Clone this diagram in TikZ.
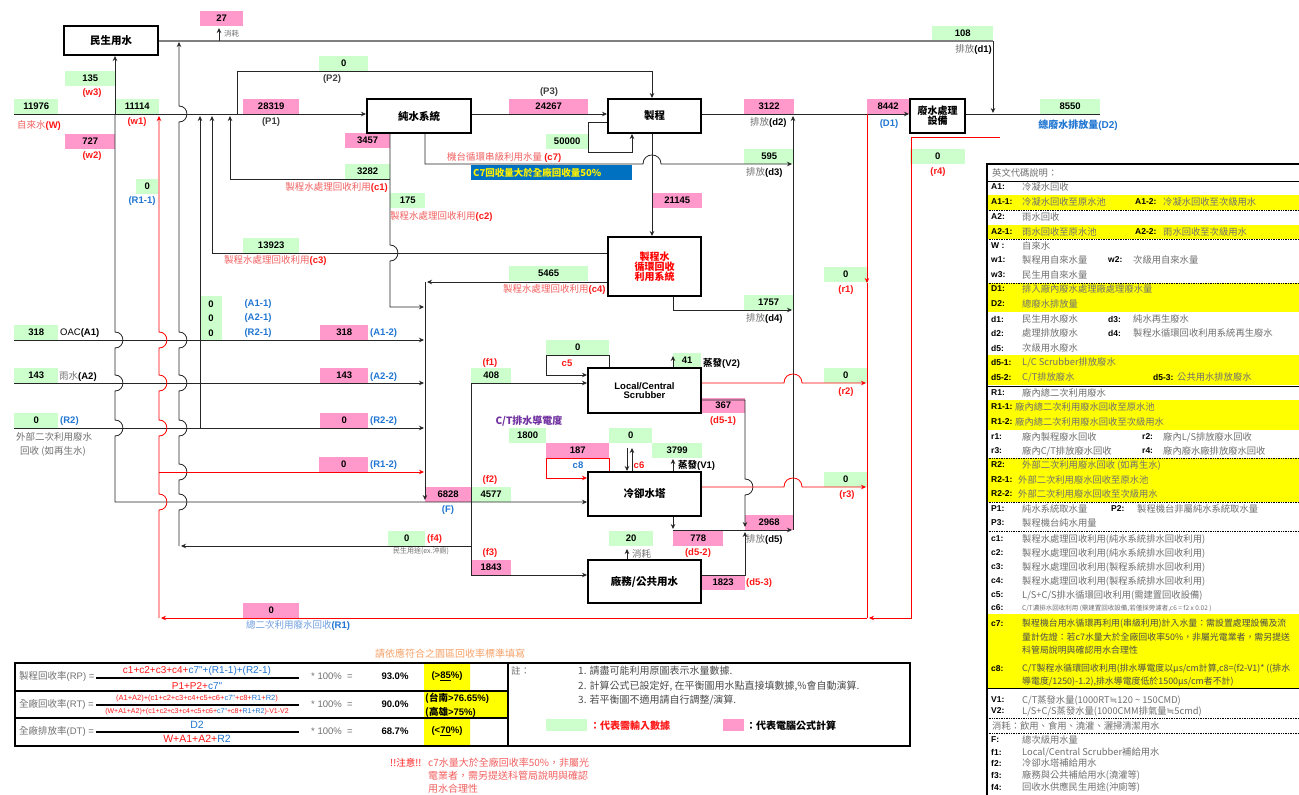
\documentclass[tikz,border=0pt]{standalone}
\usepackage{fontspec}
\setmainfont{Noto Sans CJK TC}
\newfontfamily\lat{Liberation Sans}
\newfontfamily\symfont{DejaVu Sans}
\usepackage{tikz}
\usetikzlibrary{arrows.meta,positioning,calc}
\definecolor{ingreen}{RGB}{204,255,204}
\definecolor{calcpink}{RGB}{255,153,204}
\definecolor{hiyellow}{RGB}{255,255,0}
\definecolor{lred}{RGB}{242,96,96}
\definecolor{vred}{RGB}{255,24,24}
\definecolor{lblue}{RGB}{32,118,210}
\definecolor{pblue}{RGB}{110,158,222}
\definecolor{boxblue}{RGB}{0,112,192}
\definecolor{txtgray}{RGB}{112,112,112}
\definecolor{linegray}{RGB}{128,128,128}
\definecolor{ctpurple}{RGB}{112,48,160}
\definecolor{noteorange}{RGB}{246,162,104}
\newcommand{\fsz}[1]{\fontsize{#1}{#1}\selectfont}
\newcommand{\rtx}[1]{\textcolor{vred}{#1}}
\newcommand{\btx}[1]{\textcolor{lblue}{#1}}
\newcommand{\gtx}[1]{\textcolor{txtgray}{#1}}
\newcommand{\rcode}[1]{{\lat\bfseries\textcolor{vred}{#1}}}
\newcommand{\bcode}[1]{{\lat\bfseries\textcolor{lblue}{#1}}}
\newcommand{\kcode}[1]{{\lat\bfseries #1}}
\newcommand{\approxim}{{\symfont ≒}}
% line hops: vertical line bulging right, horizontal line bulging up
\newcommand{\vhop}[2]{-- (#1,#2-8) .. controls (#1+10.5,#2-8) and (#1+10.5,#2+8) .. (#1,#2+8)}
\newcommand{\hhop}[2]{-- (#1-9,#2) .. controls (#1-9,#2-12) and (#1+9,#2-12) .. (#1+9,#2)}
\tikzset{
  sysbox/.style={draw=black,line width=1.8pt,fill=white,align=center,inner sep=1pt,font=\bfseries\fsz{10.5}},
  val/.style={anchor=south west,minimum height=15pt,inner sep=0pt,font=\lat\bfseries\fsz{9.5}},
  inval/.style={val,fill=ingreen},
  calcval/.style={val,fill=calcpink},
  ln/.style={draw=black!85,line width=0.8pt},
  rln/.style={draw=red,line width=0.8pt},
  fwd/.style={-{Stealth[length=5pt,width=4.5pt]}},
  bwd/.style={{Stealth[length=5pt,width=4.5pt]}-},
  lab/.style={inner sep=0pt,font=\fsz{9.5}},
  codelab/.style={inner sep=0pt,font=\bfseries\fsz{9.5}},
  latlab/.style={inner sep=0pt,font=\lat\bfseries\fsz{9.5}},
  leg/.style={inner sep=0pt,anchor=west,font=\fsz{9.3}},
  legcode/.style={inner sep=0pt,anchor=west,font=\lat\bfseries\fsz{8.5}},
}
\begin{document}
\begin{tikzpicture}[x=1pt,y=-1pt]
\useasboundingbox (0,0) rectangle (1299,795);
\fill[white] (0,0) rectangle (1299,795);

% input values (green) and computed values (pink)
\foreach \n/\x/\y/\w/\t in {g135/65/86/50/135, g11976/14/114/44/11976, g11114/115/114/44/11114,
  gP2/319/71/49/0, g108/932/41/61/108, g50000/546/149/42/50000, g3282/345/179/45/3282,
  gR11/136/194/22/0, g175/390/208/35/175, g595/744/164/50/595, gr4/910/164/55/0,
  g8550/1040/114/60/8550, g13923/243/253/56/13923, g318/14/340/44/318, g143/14/383/44/143,
  gR2/14/428/44/0, g5465/509/281/79/5465, g1757/744/310/49/1757, gr1/824/282/43/0,
  gr2/824/383/43/0, gr3/824/487/43/0, gc5/546/355/63/0, g408/471/383/40/408, g41/673/368/28/41,
  g1800/509/443/37/1800, gc6/609/443/43/0, g3799/652/458/50/3799, g4577/471/502/40/4577,
  gf4/388/546/37/0, g20/609/546/44/20}
  \node[inval,minimum width=\w] (\n) at (\x,\y) {\t};
\foreach \n/\x/\y/\w/\t in {p27/200/26/43/27, p727/65/149/50/727, p28319/243/114/56/28319,
  p24267/509/114/79/24267, p3457/345/148/45/3457, p3122/744/114/50/3122, p21145/652/208/50/21145,
  p8442/867/114/42/8442, p318/320/340/48/318, p143/320/383/48/143, pR22/320/428/48/0,
  pR12/319/472/49/0, p6828/425/502/46/6828, p1843/471/575/40/1843, pR1/243/618/56/0,
  p367/701/413/44/367, p187/546/458/63/187, p2968/745/530/48/2968, p778/673/546/50/778,
  p1823/701/590/44/1823}
  \node[calcval,minimum width=\w] (\n) at (\x,\y) {\t};
\node[inval,minimum width=22,minimum height=44] (gA) at (200,340) {};
\foreach \y/\t in {304/A1-1,318/A2-1,333/R2-1}{
  \node[latlab] (z\t) at (211,\y) {0};
  \node[latlab,text=lblue] (c\t) at (258,\y) {(\t)};}

% domestic line and discharge d1
\draw[draw=linegray,line width=1.5pt] (158,41) -- (993,41);
\draw[ln,fwd] (993,41) -- (993,113);
\draw[ln,fwd] (219,41) -- (219,28);
% tap water
\draw[ln,fwd] (14,114) -- (366,114);
\draw[ln,fwd] (115,114) -- (115,56);
\draw[ln,fwd] (115,114) \vhop{115}{340} \vhop{115}{383} \vhop{115}{428} -- (115,502) -- (587,502);
\draw[ln,bwd] (179,42) \vhop{179}{114} \vhop{179}{340} \vhop{179}{383} \vhop{179}{428} \vhop{179}{472} \vhop{179}{502} -- (179,546);
\draw[ln,fwd] (471,546) -- (181,546);
\draw[ln,bwd] (200,116) -- (200,428);
\draw[ln,bwd] (212,116) -- (212,253) -- (608,253);
\draw[ln,bwd] (230,116) -- (230,179) -- (390,179);
\draw[ln,fwd] (237,114) -- (237,71) -- (652,71) -- (652,98);
\draw[ln,fwd] (471,114) -- (607,114);
\draw[ln,fwd] (608,122) -- (588,122) -- (588,152) -- (632,152) -- (632,134);
\draw[ln,fwd] (390,133) \vhop{390}{253} -- (390,307) -- (424,307);
\draw[ln,fwd] (425,133) -- (425,164) \hhop{652}{164} -- (792,164);
\draw[ln,fwd] (652,133) -- (652,236);
\draw[ln,fwd] (701,114) -- (909,114);
\draw[ln] (965,114) -- (1100,114);
\draw[ln,bwd] (793,116) -- (793,530);
\draw[ln,fwd] (673,296) -- (673,310) -- (792,310);
\draw[ln,fwd] (608,282) -- (427,282);
\draw[ln,fwd] (425,282) -- (425,500);
\foreach \y in {340,383,428}
  \draw[ln,fwd] (14,\y) -- (424,\y);
% secondary water
\draw[ln,fwd] (471,502) -- (471,383) -- (587,383);
\draw[ln,fwd] (471,502) -- (471,575) -- (587,575);
\draw[ln,fwd] (609,368) -- (609,355) -- (546,355) -- (546,375) -- (587,375);
\draw[ln,fwd] (673,368) -- (673,356);
\draw[ln,fwd] (701,400) -- (745,400) \vhop{745}{487} -- (745,527);
\draw[ln,fwd] (627,448) -- (627,471);
\draw[ln,fwd] (632,471) -- (632,448);
\draw[ln,fwd] (673,472) -- (673,459);
\draw[ln,fwd] (673,516) -- (673,529);
\draw[ln,fwd] (673,530) -- (792,530);
\draw[ln,fwd] (701,575) -- (745,575) -- (745,532);
\draw[ln,fwd] (627,560) -- (627,549);
% recycled water (red)
\draw[rln,fwd] (609,472) -- (609,458) -- (546,458) -- (546,478) -- (587,478);
\draw[rln,bwd] (159,116) \vhop{159}{340} \vhop{159}{383} \vhop{159}{428} \vhop{159}{502} -- (159,618);
\draw[rln,fwd] (159,472) -- (424,472);
\draw[rln,fwd] (867,114) -- (867,283);
\draw[rln] (867,283) -- (867,618);
\draw[rln,fwd] (867,618) -- (161,618);
\draw[rln,fwd] (701,383) \hhop{793}{383} -- (866,383);
\draw[rln,fwd] (701,487) \hhop{793}{487} -- (866,487);
\draw[rln,fwd] (1000,137) -- (911,137) -- (911,618) -- (869,618);

% units
\node[sysbox,minimum width=94,minimum height=29] (civ) at (111,40.5) {民生用水};
\node[sysbox,minimum width=104,minimum height=34] (ps) at (419,116) {純水系統};
\node[sysbox,minimum width=93,minimum height=34] (mfg) at (654.5,116) {製程};
\node[sysbox,minimum width=55,minimum height=34,font=\bfseries\fsz{10}] (wwt) at (937.5,116) {廢水處理\\設備};
\node[sysbox,minimum width=93,minimum height=59,text=red,font=\bfseries\fsz{10}] (rec) at (654.5,266.5) {製程水\\循環回收\\利用系統};
\node[sysbox,minimum width=113,minimum height=45,font=\lat\bfseries\fsz{9.5}] (lcs) at (644.5,390.5) {Local/Central\\Scrubber};
\node[sysbox,minimum width=113,minimum height=44] (ct) at (644.5,494) {冷卻水塔};
\node[sysbox,minimum width=113,minimum height=43] (fac) at (644.5,581.5) {廠務/公共用水};
\node[fill=boxblue,text=yellow,anchor=north west,minimum height=15,text width=157,inner xsep=2,inner ysep=0,align=left,font=\bfseries\fsz{9.5}] (c7warn) at (471,165) {C7回收量大於全廠回收量50\%};

% labels
\node[lab,text=txtgray,font=\fsz{7.5},anchor=west] (t27) at (224,34) {消耗};
\node[lab,anchor=east] (td1) at (992,49) {\gtx{排放}\kcode{(d1)}};
\node[latlab,text=vred] (tw3) at (92,93) {(w3)};
\node[latlab,text=vred] (tw1) at (137,122) {(w1)};
\node[latlab,text=vred] (tw2) at (92,156) {(w2)};
\node[lab] (tW) at (39,125) {\textcolor{lred}{自來水}\rcode{(W)}};
\node[latlab,text=black!75] (tP1) at (271,122) {(P1)};
\node[latlab,text=black!75] (tP2) at (332,79) {(P2)};
\node[latlab,text=black!75] (tP3) at (549,92) {(P3)};
\node[latlab,text=lblue] (tR11) at (142,201) {(R1-1)};
\node[lab,anchor=east] (tc1) at (388,187) {\textcolor{lred}{製程水處理回收利用}\rcode{(c1)}};
\node[lab,anchor=west] (tc2) at (390,216) {\textcolor{lred}{製程水處理回收利用}\rcode{(c2)}};
\node[lab,anchor=west] (tc3) at (224,260) {\textcolor{lred}{製程水處理回收利用}\rcode{(c3)}};
\node[lab,anchor=west] (tc4) at (503,289) {\textcolor{lred}{製程水處理回收利用}\rcode{(c4)}};
\node[lab,anchor=west] (tc7) at (447,157) {\textcolor{lred}{機台循環串級利用水量 }\rcode{(c7)}};
\node[lab,anchor=west] (td2) at (750,122) {\gtx{排放}\kcode{(d2)}};
\node[lab,anchor=west] (td3) at (746,172) {\gtx{排放}\kcode{(d3)}};
\node[lab,anchor=west] (td4) at (746,318) {\gtx{排放}\kcode{(d4)}};
\node[latlab,text=lblue] (tD1) at (889,124) {(D1)};
\node[latlab,text=vred] (tr4) at (938,172) {(r4)};
\node[latlab,text=vred] (tr1) at (846,290) {(r1)};
\node[latlab,text=vred] (tr2) at (846,392) {(r2)};
\node[latlab,text=vred] (tr3) at (847,495) {(r3)};
\node[codelab,font=\bfseries\fsz{10}] (tD2) at (1078,125) {\textcolor{lblue}{總廢水排放量}\bcode{(D2)}};
\node[lab,anchor=west] (tA1) at (60,333) {{\lat OAC}\kcode{(A1)}};
\node[lab,anchor=west] (tA2) at (59,377) {\gtx{雨水}\kcode{(A2)}};
\node[latlab,text=lblue,anchor=west] (tR2) at (60,421) {(R2)};
\node[lab,text=txtgray,anchor=west] (tR2a) at (16,437) {外部二次利用廢水};
\node[lab,text=txtgray,anchor=west] (tR2b) at (20,451) {回收 (如再生水)};
\foreach \y/\t in {333/A1-2,377/A2-2,421/R2-2,465/R1-2}
  \node[latlab,text=lblue,anchor=west] (t\t) at (370,\y) {(\t)};
\node[latlab,text=lblue] (tF) at (448,510) {(F)};
\node[latlab,text=vred] (tf1) at (490,363) {(f1)};
\node[latlab,text=vred] (tf2) at (490,480) {(f2)};
\node[latlab,text=vred] (tf3) at (490,553) {(f3)};
\node[latlab,text=vred,anchor=west] (tf4) at (427,539) {(f4)};
\node[lab,text=txtgray,font=\fsz{7}] (tf4b) at (421,551) {民生用途(ex.沖廁)};
\node[lab] (tR1) at (298,625) {\textcolor{pblue}{總二次利用廢水回收}\bcode{(R1)}};
\node[latlab,text=vred] (tc5) at (567,363) {c5};
\node[latlab,text=lblue] (tc8) at (578,465) {c8};
\node[latlab,text=vred] (tc6) at (639,465) {c6};
\node[codelab,anchor=west] (tV2) at (703,363) {蒸發\kcode{(V2)}};
\node[codelab,anchor=west] (tV1) at (678,465) {蒸發\kcode{(V1)}};
\node[codelab,text=ctpurple,font=\bfseries\fsz{10}] (tcond) at (529,421) {C/T排水導電度};
\node[lab,text=txtgray,anchor=west] (t20) at (632,554) {消耗};
\node[latlab,text=vred] (td51) at (723,421) {(d5-1)};
\node[latlab,text=vred] (td52) at (698,553) {(d5-2)};
\node[latlab,text=vred,anchor=west] (td53) at (746,583) {(d5-3)};
\node[lab,anchor=west] (td5) at (746,539) {\gtx{排放}\kcode{(d5)}};

% code legend
\fill[white] (987,164) rectangle (1303,799);
\foreach \a/\b in {195/210,225/239,283/312,355/385,400/430,458/502,614/688}
  \fill[hiyellow] (988,\a) rectangle (1299,\b);
\draw[line width=1.8pt] (987,164) rectangle (1303,799);
\draw[line width=0.6pt] (987,181) -- (1299,181) (987,386) -- (1299,386) (987,688) -- (1299,688);
\foreach \y in {210,239,283,458,502,531,718,733}
  \draw[densely dotted,line width=0.7pt] (987,\y) -- (1299,\y);
\node[leg,text=txtgray] (lhead) at (992,173) {英文代碼說明：};
\foreach \y/\x/\c/\d in {187/1022/A1:/冷凝水回收, 202/1022/A1-1:/冷凝水回收至原水池, 217/1022/A2:/雨水回收,
  232/1022/A2-1:/雨水回收至原水池, 246/1022/W :/自來水, 260/1022/w1:/製程用自來水量, 275/1022/w3:/民生用自來水量,
  289/1022/D1:/排入廠內廢水處理廠處理廢水量, 304/1022/D2:/總廢水排放量, 319/1022/d1:/民生用水廢水,
  333/1022/d2:/處理排放廢水, 348/1022/d5:/次級用水廢水, 362/1022/d5-1:/{L/C Scrubber排放廢水},
  377/1022/d5-2:/{C/T排放廢水}, 393/1022/R1:/廠內總二次利用廢水, 407/1015/R1-1:/廠內總二次利用廢水回收至原水池,
  422/1015/R1-2:/廠內總二次利用廢水回收至次級用水, 437/1022/r1:/廠內製程廢水回收, 451/1022/r3:/{廠內C/T排放廢水回收},
  465/1022/R2:/外部二次利用廢水回收 (如再生水), 480/1018/R2-1:/外部二次利用廢水回收至原水池,
  494/1018/R2-2:/外部二次利用廢水回收至次級用水, 509/1022/P1:/純水系統取水量, 523/1022/P3:/製程機台純水用量,
  539/1022/c1:/製程水處理回收利用(純水系統排水回收利用), 553/1022/c2:/製程水處理回收利用(純水系統排水回收利用),
  567/1022/c3:/製程水處理回收利用(製程系統排水回收利用), 581/1022/c4:/製程水處理回收利用(製程系統排水回收利用),
  595/1022/c5:/{L/S+C/S排水循環回收利用(需建置回收設備)}, 700/1022/V1:/{C/T蒸發水量(1000RT\approxim 120 \textasciitilde{} 150CMD)},
  711/1022/V2:/{L/S+C/S蒸發水量(1000CMM排氣量\approxim 5cmd)}, 740/1022/F:/總次級用水量,
  752/1022/f1:/{Local/Central Scrubber補給用水}, 763/1022/f2:/冷卻水塔補給用水,
  775/1022/f3:/廠務與公共補給用水(澆灌等), 787/1022/f4:/回收水供應民生用途(沖廁等)}{
  \node[legcode] (lc\y) at (991,\y) {\c};
  \node[leg,text=txtgray] (ld\y) at (\x,\y) {\d};}
\foreach \y/\cx/\c/\dx/\d in {202/1135/A1-2:/1163/冷凝水回收至次級用水, 232/1135/A2-2:/1163/雨水回收至次級用水,
  260/1108/w2:/1133/次級用自來水量, 319/1108/d3:/1133/純水再生廢水, 333/1108/d4:/1133/製程水循環回收利用系統再生廢水,
  377/1153/d5-3:/1177/公共用水排放廢水, 437/1142/r2:/1163/{廠內L/S排放廢水回收}, 451/1142/r4:/1163/廠內廢水廠排放廢水回收,
  509/1111/P2:/1137/製程機台非屬純水系統取水量}{
  \node[legcode] (lk\y) at (\cx,\y) {\c};
  \node[leg,text=txtgray] (le\y) at (\dx,\y) {\d};}
\node[legcode] (lc608) at (991,608) {c6:};
\node[leg,text=txtgray,font=\fsz{6.5}] (ld608) at (1022,608) {C/T濃排水回收利用 (需建置回收設備,若僅採旁濾者,c6 = f2 x 0.02 )};
\node[legcode] (lc624) at (991,624) {c7:};
\foreach \y/\d in {624/製程機台用水循環再利用(串級利用)計入水量：需設置處理設備及流,
  637/量計佐證：若c7水量大於全廠回收率50\%，非屬光電業者，需另提送, 650/科管局說明與確認用水合理性,
  669/{C/T製程水循環回收利用(排水導電度以μs/cm計算,c8=(f2-V1)* ((排水}, 682/{導電度/1250)-1.2),排水導電度低於1500μs/cm者不計)}}
  \node[leg,text=black!70,font=\fsz{8.9}] (lx\y) at (1022,\y) {\d};
\node[legcode] (lc669) at (991,669) {c8:};
\node[leg,text=txtgray] (lcons) at (992,726) {消耗：飲用、食用、澆灌、灑掃清潔用水};

% recovery rates
\node[lab,text=noteorange,anchor=west,font=\fsz{10}] (rnote) at (375,654) {請依應符合之園區回收率標準填寫};
\fill[hiyellow] (424,664) rectangle (470,690) (424,691) rectangle (508,718) (424,719) rectangle (470,745);
\draw[line width=1.8pt] (15,663) rectangle (508,746) (508,663) rectangle (910,746);
\draw[line width=1.5pt] (15,691) -- (508,691) (15,718) -- (508,718);
\draw[line width=1.2pt] (96,678) -- (299,678) (96,705) -- (299,705) (96,732) -- (299,732);
\node[lab,text=txtgray,anchor=west] (rpl) at (19,676) {製程回收率{\lat(RP) =}};
\node[lab,font=\lat\fsz{10}] (rpn) at (197,671) {\rtx{c1+c2+c3+c4+}\btx{c7"+(R1-1)+(R2-1)}};
\node[lab,font=\lat\fsz{10}] (rpd) at (197,686) {\rtx{P1+P2+}\btx{c7"}};
\node[lab,text=txtgray,anchor=west,font=\lat\fsz{9.5}] (rpm) at (311,676) {* 100\% \ =};
\node[latlab] (rpv) at (395,676) {93.0\%};
\node[latlab] (rpt) at (447,676) {(>\underline{85}\%)};
\node[lab,text=txtgray,anchor=west] (rtl) at (19,704) {全廠回收率{\lat(RT) =}};
\node[lab,font=\lat\fsz{7.5}] (rtn) at (197,699) {\rtx{(A1+A2)+(c1+c2+c3+c4+c5+c6+}\btx{c7"}\rtx{+c8+}\btx{R1}\rtx{+}\btx{R2}\rtx{)}};
\node[lab,font=\lat\fsz{7}] (rtd) at (197,712) {\rtx{(W+A1+A2)+(c1+c2+c3+c4+c5+c6+}\btx{c7"}\rtx{+c8+}\btx{R1+R2}\rtx{)-V1-V2}};
\node[lab,text=txtgray,anchor=west,font=\lat\fsz{9.5}] (rtm) at (311,704) {* 100\% \ =};
\node[latlab] (rtv) at (395,704) {90.0\%};
\node[codelab,anchor=west] (rtt1) at (425,698) {(台南\kcode{>76.65\%)}};
\node[codelab,anchor=west] (rtt2) at (425,712) {(高雄\kcode{>75\%)}};
\node[lab,text=txtgray,anchor=west] (dtl) at (19,731) {全廠排放率{\lat(DT) =}};
\node[lab,font=\lat\fsz{10.5}] (dtn) at (197,725) {\btx{D2}};
\node[lab,font=\lat\fsz{10.5}] (dtd) at (197,739) {\rtx{W+A1+A2+}\btx{R2}};
\node[lab,text=txtgray,anchor=west,font=\lat\fsz{9.5}] (dtm) at (311,731) {* 100\% \ =};
\node[latlab] (dtv) at (395,731) {68.7\%};
\node[latlab] (dtt) at (447,731) {(<\underline{70}\%)};
% notes
\node[lab,text=txtgray,anchor=west] (n0) at (511,671) {註：};
\node[lab,text=black!70,anchor=west,font=\fsz{10}] (n1) at (578,671) {1. 請盡可能利用原圖表示水量數據.};
\node[lab,text=black!70,anchor=west,font=\fsz{10}] (n2) at (578,686) {2. 計算公式已設定好, 在平衡圖用水點直接填數據,\%會自動演算.};
\node[lab,text=black!70,anchor=west,font=\fsz{10}] (n3) at (578,700) {3. 若平衡圖不適用請自行調整/演算.};
\node[fill=ingreen,minimum width=41,minimum height=12,inner sep=0,anchor=north west] (swg) at (546,719) {};
\node[codelab,text=vred,anchor=west,font=\bfseries\fsz{10}] (swgt) at (590,726) {：代表需輸入數據};
\node[fill=calcpink,minimum width=21,minimum height=12,inner sep=0,anchor=north west] (swp) at (723,719) {};
\node[codelab,anchor=west,font=\bfseries\fsz{10}] (swpt) at (746,726) {：代表電腦公式計算};
\node[lab,text=vred,anchor=west] (warn0) at (390,763) {!!注意!!};
\node[lab,text=lred,anchor=west,font=\fsz{10}] (warn1) at (428,763) {c7水量大於全廠回收率50\%，非屬光};
\node[lab,text=lred,anchor=west,font=\fsz{10}] (warn2) at (428,776) {電業者，需另提送科管局說明與確認};
\node[lab,text=lred,anchor=west,font=\fsz{10}] (warn3) at (428,789) {用水合理性};
\end{tikzpicture}
\end{document}
